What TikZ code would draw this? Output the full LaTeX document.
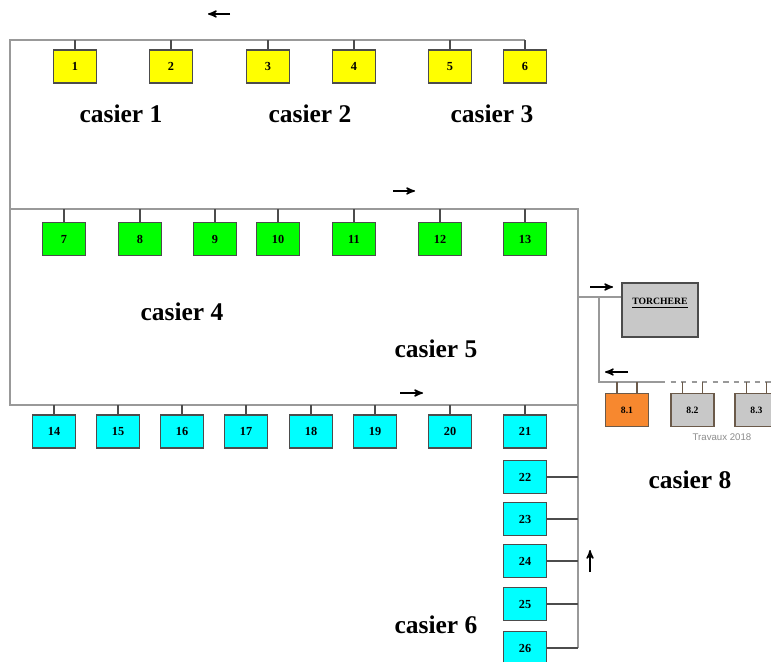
\documentclass[tikz,border=0pt]{standalone}
\usepackage{fontspec}
\setmainfont{Liberation Serif}
\newfontfamily\travauxfont{Liberation Sans}
\usetikzlibrary{arrows}
\definecolor{casjaune}{HTML}{FFFF00}
\definecolor{casvert}{HTML}{00FF00}
\definecolor{cascyan}{HTML}{00FFFF}
\definecolor{casorange}{HTML}{F7882F}
\definecolor{casgris}{HTML}{C8C8C8}
\definecolor{casbrun}{HTML}{6B5A4A}
\def\casier#1{\textbf{casier #1}}
\tikzset{
  bac/.style={draw=black!70,line width=0.8pt,minimum width=0.86cm,
    minimum height=0.66cm,inner sep=0pt,font=\fontsize{7}{7}\selectfont\bfseries},
  bac8/.style={bac,draw=casbrun,font=\fontsize{5.5}{5.5}\selectfont\bfseries},
  collecteur/.style={draw=black!40,line width=1.1pt},
  piquage/.style={draw=black!70,line width=0.75pt},
  sens/.style={->,thick,>=stealth'},
  nomcasier/.style={font=\fontsize{14.5}{15}\selectfont}
}
\begin{document}
\begin{tikzpicture}
\begin{scope}[x=0.02cm,y=-0.02cm]
  \useasboundingbox[fill=white] (0,0) rectangle (771,662);
  % collecteurs
  \coordinate (tl) at (10,40); \coordinate (tr) at (525,40);
  \coordinate (ml) at (10,209); \coordinate (mr) at (578,209);
  \coordinate (bl) at (10,405); \coordinate (br) at (578,405);
  \coordinate (cr) at (578,648); \coordinate (tj) at (578,297);
  \coordinate (tk) at (599,297); \coordinate (k8) at (599,382);
  \coordinate (k8a) at (660,382); \coordinate (k8b) at (771,382);
  \draw[collecteur] (tr) -- (tl) -- (bl) -- (br);
  \draw[collecteur] (ml) -- (mr) -- (cr);
  % casiers 1 a 3
  \foreach[count=\i] \x in {75,171,268,354,450,525}
  \node[bac,fill=casjaune] (b\i) at (\x,66.5) {\i};
  \foreach \i in {1,...,6} \draw[piquage] (b\i.north) -- (b\i.north |- tl);
  % casiers 4 et 5
  \foreach[count=\j from 7] \x in {64,140,215,278,354,440,525}
  \node[bac,fill=casvert] (b\j) at (\x,239) {\j};
  \foreach \i in {7,...,13} \draw[piquage] (b\i.north) -- (b\i.north |- ml);
  % casier 6
  \foreach[count=\j from 14] \x in {54,118,182,246,311,375,450,525}
  \node[bac,fill=cascyan] (b\j) at (\x,431.5) {\j};
  \foreach \i in {14,...,21} \draw[piquage] (b\i.north) -- (b\i.north |- bl);
  \foreach[count=\j from 22] \y in {477,519,561,604,648}
  \node[bac,fill=cascyan] (b\j) at (525,\y) {\j};
  \foreach \i in {22,23,25,26} \draw[piquage] (b\i.east) -- (b\i.east -| cr);
  \draw[piquage,line width=1.4pt] (b24.east) -- (b24.east -| cr);
  % torchere
  \node[draw=black!70,line width=0.8pt,fill=casgris,minimum width=1.52cm,
    minimum height=1.08cm,inner sep=0pt,font=\fontsize{5.5}{5.5}\selectfont\bfseries,
    text depth=0.35cm] (torch) at (660,310) {\underline{TORCHERE}};
  \draw[collecteur,line width=1.6pt] (tj) -- (tj -| torch.west);
  % casier 8
  \draw[draw=black!40,line width=0.8pt] (tk) -- (k8) -- (k8a);
  \draw[draw=black!40,line width=0.8pt,dashed] (k8a) -- (k8b);
  \node[bac8,fill=casorange] (b81) at (627,410) {8.1};
  \node[bac8,fill=casgris] (b82) at (692.5,410) {8.2};
  \node[bac8,fill=casgris] (b83) at (756.5,410) {8.3};
  \foreach \b in {b81,b82,b83} {
    \draw[piquage,draw=casbrun] ([xshift=-0.2cm]\b.north) -- ([xshift=-0.2cm]\b.north |- k8);
    \draw[piquage,draw=casbrun] ([xshift=0.2cm]\b.north) -- ([xshift=0.2cm]\b.north |- k8);}
  \node[font=\travauxfont\fontsize{5.5}{6}\selectfont,text=black!45] (travaux) at (722,437) {Travaux 2018};
  % sens d'ecoulement
  \draw[sens] (230,14) -- (208,14);
  \draw[sens] (393,191) -- (415,191);
  \draw[sens] (590,287) -- (613,287);
  \draw[sens] (628,372) -- (605,372);
  \draw[sens] (400,393) -- (423,393);
  \draw[sens] (590,572) -- (590,550);
  % noms
  \node[nomcasier] (c1) at (121,114) {\casier{1}};
  \node[nomcasier] (c2) at (310,114) {\casier{2}};
  \node[nomcasier] (c3) at (492,114) {\casier{3}};
  \node[nomcasier] (c4) at (182,312) {\casier{4}};
  \node[nomcasier] (c5) at (436,349) {\casier{5}};
  \node[nomcasier] (c6) at (436,625) {\casier{6}};
  \node[nomcasier] (c8) at (690,480) {\casier{8}};
\end{scope}
\end{tikzpicture}
\end{document}
